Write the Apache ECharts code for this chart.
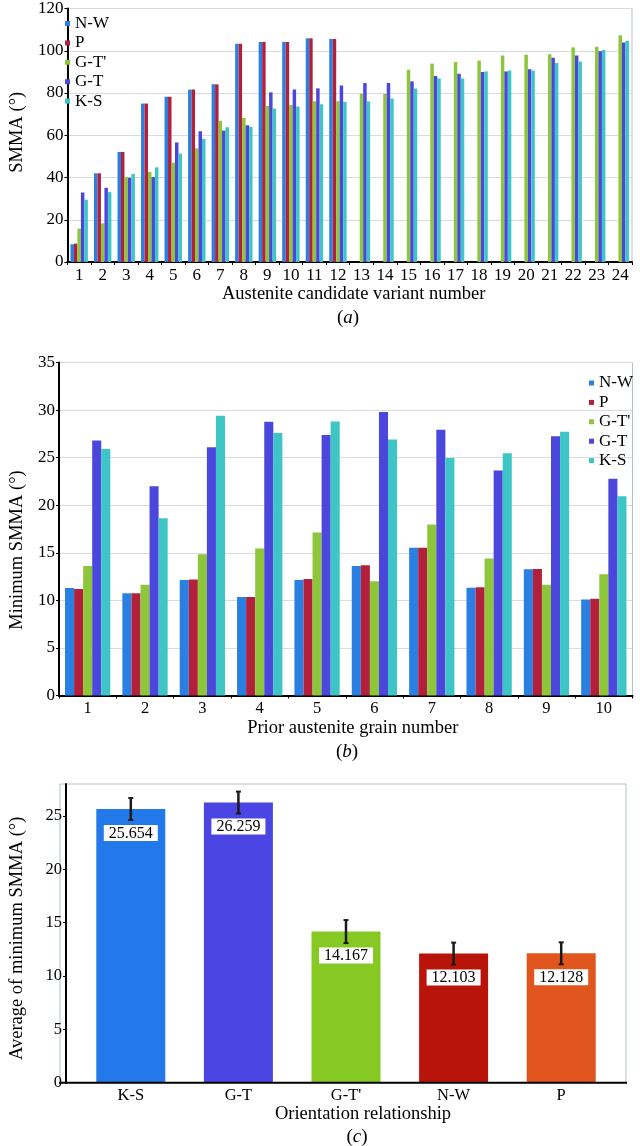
<!DOCTYPE html>
<html><head><meta charset="utf-8">
<script src="https://cdn.jsdelivr.net/npm/echarts@6/dist/echarts.min.js"></script>
<style>html,body{margin:0;padding:0;background:#fff}#c{width:640px;height:1146px}</style>
</head><body><div id="c"></div>
<script>
// ---------- data ----------
const seriesNames = ['N-W', 'P', "G-T'", 'G-T', 'K-S'];

// (a) SMMA per austenite candidate variant
const variantNumbers = ['1','2','3','4','5','6','7','8','9','10','11','12','13','14','15','16','17','18','19','20','21','22','23','24'];
const aNW  = [8.4, 42.0, 52.1, 75.0, 78.2, 81.6, 84.1, 103.3, 104.2, 104.2, 105.9, 105.6, null, null, null, null, null, null, null, null, null, null, null, null];
const aP   = [8.7, 42.0, 52.1, 75.0, 78.2, 81.6, 84.1, 103.3, 104.2, 104.2, 105.9, 105.6, null, null, null, null, null, null, null, null, null, null, null, null];
const aGTp = [15.8, 18.3, 40.2, 42.6, 47.0, 53.8, 66.9, 68.2, 73.9, 74.3, 76.1, 76.1, 79.6, 79.6, 91.0, 93.9, 94.7, 95.3, 97.7, 98.1, 98.3, 101.6, 101.9, 107.3];
const aGT  = [32.9, 35.1, 39.9, 40.2, 56.6, 61.9, 62.2, 64.7, 80.3, 81.6, 82.2, 83.5, 84.7, 84.7, 85.5, 88.1, 89.1, 89.9, 90.2, 91.3, 96.7, 97.7, 99.8, 103.9];
const aKS  = [29.5, 33.1, 41.7, 44.8, 51.3, 58.3, 63.8, 64.0, 72.7, 73.6, 74.7, 75.8, 76.0, 77.4, 82.1, 86.9, 86.9, 90.2, 90.6, 90.6, 94.2, 94.9, 100.3, 104.7];

// (b) minimum SMMA per prior austenite grain
const grainNumbers = ['1','2','3','4','5','6','7','8','9','10'];
const bNW  = [11.30, 10.74, 12.14, 10.35, 12.14, 13.60, 15.54, 11.33, 13.26, 10.10];
const bP   = [11.20, 10.74, 12.20, 10.35, 12.25, 13.70, 15.54, 11.37, 13.30, 10.18];
const bGTp = [13.60, 11.65, 14.84, 15.44, 17.12, 12.00, 17.96, 14.39, 11.65, 12.74];
const bGT  = [26.80, 22.00, 26.10, 28.77, 27.37, 29.80, 27.93, 23.65, 27.26, 22.77];
const bKS  = [25.90, 18.63, 29.40, 27.58, 28.80, 26.90, 24.95, 25.47, 27.72, 20.95];

// (c) average of minimum SMMA per orientation relationship
const orNames = ['K-S', 'G-T', "G-T'", 'N-W', 'P'];
const orMean  = [25.654, 26.259, 14.167, 12.103, 12.128];
const orErr   = [1.03, 1.03, 1.08, 1.03, 1.03];

// tick labels
const aTicks = [0, 20, 40, 60, 80, 100, 120];
const bTicks = [0, 5, 10, 15, 20, 25, 30, 35];
const cTicks = [0, 5, 10, 15, 20, 25];

// ---------- styles ----------
const FONT = 'Liberation Serif';
const palAB = ['#2a80e2', '#b3203c', '#8dc63a', '#4b47dc', '#3ec6c6'];
const palC  = ['#2379ea', '#4a45e3', '#86c923', '#b9140a', '#e0561e'];
const frameColor = '#b3c3c7';
const gridLineColor = '#d5dde0';

const aData = [aNW, aP, aGTp, aGT, aKS];
const bData = [bNW, bP, bGTp, bGT, bKS];

const txt = (size, extra) => Object.assign({ fontFamily: FONT, fontSize: size, color: '#000' }, extra || {});

const series = [];
seriesNames.forEach((n, i) => {
  series.push({
    type: 'bar', name: n, xAxisIndex: 0, yAxisIndex: 0, data: aData[i],
    barGap: '0%', barCategoryGap: '26%', itemStyle: { color: palAB[i] }
  });
});
seriesNames.forEach((n, i) => {
  series.push({
    type: 'bar', name: n, xAxisIndex: 1, yAxisIndex: 1, data: bData[i],
    barGap: '0%', barCategoryGap: '21%', itemStyle: { color: palAB[i] }
  });
});
series.push({
  type: 'bar', name: 'avg', xAxisIndex: 2, yAxisIndex: 2, barWidth: 69,
  data: orMean.map((v, i) => ({ value: v, itemStyle: { color: palC[i] } })),
  label: {
    show: true, position: 'insideTop', distance: 16,
    formatter: p => p.value.toFixed(3),
    backgroundColor: '#fff', padding: [1, 5, 0, 5], lineHeight: 15,
    fontFamily: FONT, fontSize: 16, color: '#000'
  }
});
series.push({
  type: 'custom', name: 'err', xAxisIndex: 2, yAxisIndex: 2, z: 10,
  data: orMean.map((m, i) => [i, m - orErr[i], m + orErr[i]]),
  renderItem: (params, api) => {
    const x = api.value(0);
    const lo = api.coord([x, api.value(1)]);
    const hi = api.coord([x, api.value(2)]);
    const cw = 2.5, st = { stroke: '#1a1a1a', lineWidth: 2.5 };
    return { type: 'group', children: [
      { type: 'line', shape: { x1: lo[0], y1: lo[1], x2: hi[0], y2: hi[1] }, style: st },
      { type: 'line', shape: { x1: hi[0] - cw, y1: hi[1], x2: hi[0] + cw, y2: hi[1] }, style: { stroke: '#1a1a1a', lineWidth: 2 } },
      { type: 'line', shape: { x1: lo[0] - cw, y1: lo[1], x2: lo[0] + cw, y2: lo[1] }, style: { stroke: '#1a1a1a', lineWidth: 2 } }
    ]};
  }
});

const blackLine = { show: true, lineStyle: { color: '#000', width: 2 } };
const tick = { show: true, length: 3, lineStyle: { color: '#000', width: 1 } };

const legendBase = {
  data: seriesNames, orient: 'vertical', icon: 'rect', itemWidth: 5, itemHeight: 5, itemGap: 2.4,
  textStyle: txt(17, { lineHeight: 16 }), selectedMode: false
};

const subLabel = (letter, x, y) => ({
  type: 'text', x: x, y: y,
  style: {
    text: '{p|(}{i|' + letter + '}{p|)}', align: 'center', verticalAlign: 'middle',
    fontFamily: FONT, fontSize: 19, fill: '#000',
    rich: {
      p: { fontFamily: FONT, fontSize: 19, fill: '#000' },
      i: { fontFamily: FONT, fontSize: 19, fontStyle: 'italic', fill: '#000' }
    }
  }
});

const option = {
  animation: false,
  backgroundColor: '#fff',
  grid: [
    { left: 43, right: 8, top: 6, height: 256, show: true, borderColor: frameColor, borderWidth: 1 },
    { left: 52, right: 7.5, top: 362.5, height: 333, show: true, borderColor: frameColor, borderWidth: 1 },
    { left: 71, right: 25, top: 784, height: 298.7, show: false }
  ],
  legend: [
    Object.assign({}, legendBase, { left: 60, top: 10 }),
    Object.assign({}, legendBase, { left: 584, top: 369.5 })
  ],
  xAxis: [
    { gridIndex: 0, type: 'category', data: variantNumbers,
      axisLine: blackLine, axisTick: Object.assign({ interval: 0 }, tick),
      axisLabel: txt(17, { interval: 0, margin: 5 }),
      name: 'Austenite candidate variant number', nameLocation: 'middle', nameGap: 20,
      nameTextStyle: txt(18.5, { padding: [0, 0, 0, 8] }) },
    { gridIndex: 1, type: 'category', data: grainNumbers,
      axisLine: blackLine, axisTick: Object.assign({ interval: 0 }, tick),
      axisLabel: txt(16.5, { interval: 0, margin: 5 }),
      name: 'Prior austenite grain number', nameLocation: 'middle', nameGap: 20,
      nameTextStyle: txt(18.5, { padding: [0, 0, 0, 14] }) },
    { gridIndex: 2, type: 'category', data: orNames,
      axisLine: { show: false }, axisTick: { show: false },
      axisLabel: txt(16.5, { interval: 0, margin: 4 }),
      name: 'Orientation relationship', nameLocation: 'middle', nameGap: 21,
      nameTextStyle: txt(18.5, { padding: [0, 0, 0, 34] }) }
  ],
  yAxis: [
    { gridIndex: 0, type: 'value', min: 0, max: 120, interval: 20,
      axisLine: blackLine, axisTick: tick,
      axisLabel: txt(17, { margin: 4, customValues: aTicks }),
      splitLine: { show: true, lineStyle: { color: gridLineColor, width: 1 } },
      name: 'SMMA (°)', nameLocation: 'middle', nameGap: 25,
      nameTextStyle: txt(18.5, { padding: [0, 0, 0, 6] }) },
    { gridIndex: 1, type: 'value', min: 0, max: 35, interval: 5,
      axisLine: blackLine, axisTick: tick,
      axisLabel: txt(17, { margin: 4, customValues: bTicks }),
      splitLine: { show: true, lineStyle: { color: gridLineColor, width: 1 } },
      name: 'Minimum SMMA (°)', nameLocation: 'middle', nameGap: 32,
      nameTextStyle: txt(18.5, { padding: [0, 42, 0, 0] }) },
    { gridIndex: 2, type: 'value', min: 0, max: 28, interval: 5, offset: 11,
      axisLine: blackLine,
      axisTick: Object.assign({ customValues: cTicks }, tick),
      axisLabel: txt(16.5, { margin: 4, customValues: cTicks }),
      splitLine: { show: false },
      name: 'Average of minimum SMMA (°)', nameLocation: 'middle', nameGap: 39,
      nameTextStyle: txt(18.5, { padding: [0, 10, 0, 0] }) }
  ],
  graphic: [
    { type: 'rect', z: -1, shape: { x: 60, y: 784, width: 566, height: 298.7 },
      style: { fill: 'none', stroke: frameColor, lineWidth: 1 } },
    { type: 'line', z: 5, shape: { x1: 59, y1: 1082.7, x2: 627, y2: 1082.7 },
      style: { stroke: '#000', lineWidth: 2 } },
    subLabel('a', 348, 318),
    subLabel('b', 347, 752),
    subLabel('c', 357, 1137)
  ],
  series: series
};

const chart = echarts.init(document.getElementById('c'), null, { renderer: 'canvas' });
chart.setOption(option);
</script>
</body></html>
